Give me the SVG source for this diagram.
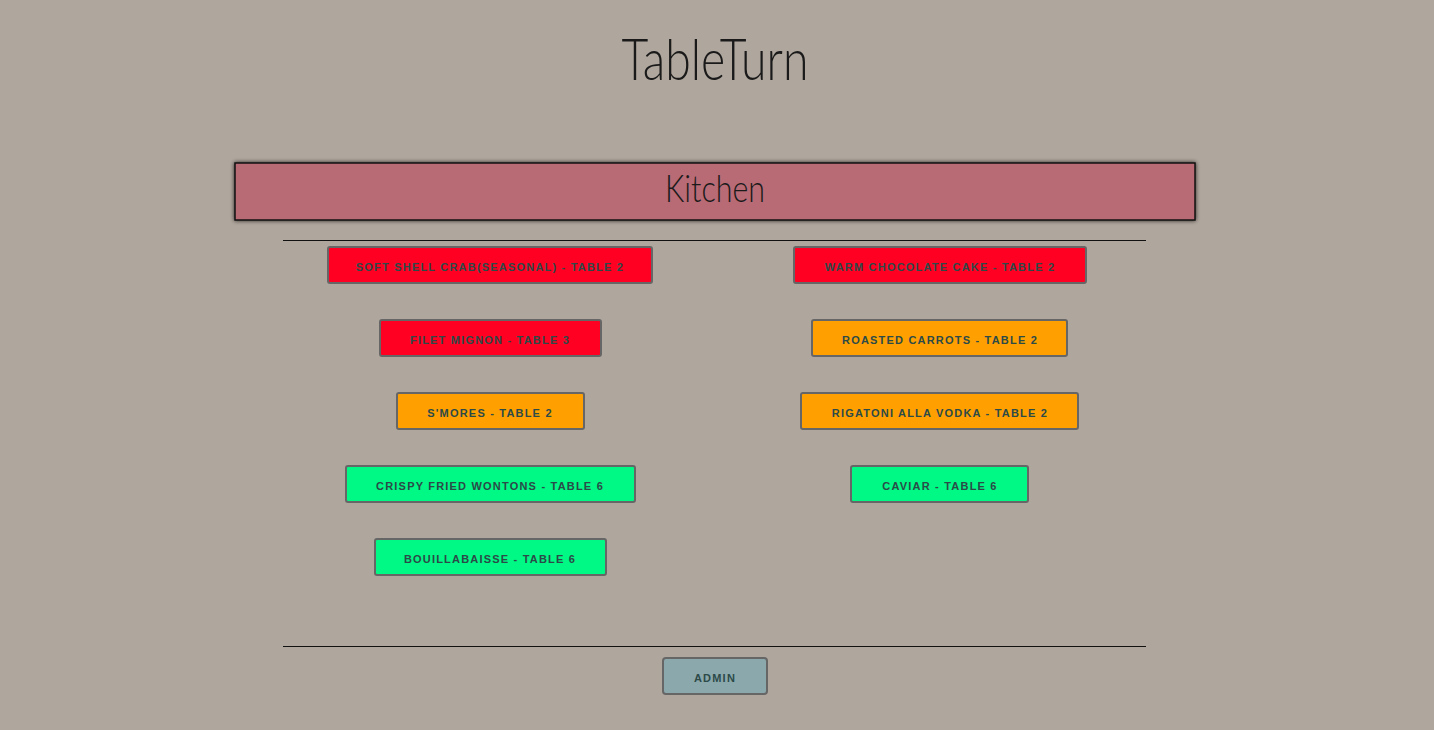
<svg xmlns="http://www.w3.org/2000/svg" width="1434" height="730" viewBox="0 0 1434 730">
<defs>
<filter id="sh" x="-5%" y="-30%" width="110%" height="160%"><feGaussianBlur in="SourceAlpha" stdDeviation="2"/><feOffset dx="0" dy="0"/><feComponentTransfer><feFuncA type="linear" slope="0.8"/></feComponentTransfer><feMerge><feMergeNode/><feMergeNode in="SourceGraphic"/></feMerge></filter>
</defs>
<style>
.btn{stroke:#666;stroke-width:2}
.red{fill:#ff0022}
.org{fill:#ffa000}
.grn{fill:#00f884}
.adm{fill:#8ba8ad}
.lbl{font-family:"Liberation Sans",Arial,sans-serif;font-weight:bold;font-size:11px;letter-spacing:1.2px;fill:#2b4a48;text-anchor:middle}
.thin{font-family:Lato,"Noto Sans",sans-serif;font-weight:300;fill:#1a1a1a;text-anchor:middle}
.rule{stroke:#111;stroke-width:1}
</style>
<rect x="0" y="0" width="1434" height="730" fill="#afa69d"/>
<text id="title" class="thin" x="0" y="0" font-size="58" transform="translate(715,80) scale(0.8,1)">TableTurn</text>
<g id="kitchen">
<rect x="235" y="163" width="960" height="57" fill="#b86b75" stroke="#111" stroke-width="1.5" filter="url(#sh)"/>
<text class="thin" x="0" y="0" font-size="38" transform="translate(715,202) scale(0.8,1)">Kitchen</text>
</g>
<g id="connectors">
<line class="rule" x1="283" y1="240.5" x2="1146" y2="240.5"/>
<line class="rule" x1="283" y1="646.5" x2="1146" y2="646.5"/>
</g>
<g id="n1"><rect class="btn red" x="328" y="247" width="324" height="36" rx="2"/><text class="lbl" x="490" y="271">SOFT SHELL CRAB(SEASONAL) - TABLE 2</text></g>
<g id="n2"><rect class="btn red" x="794" y="247" width="292" height="36" rx="2"/><text class="lbl" x="940" y="271">WARM CHOCOLATE CAKE - TABLE 2</text></g>
<g id="n3"><rect class="btn red" x="380" y="320" width="221" height="36" rx="2"/><text class="lbl" x="490" y="344">FILET MIGNON - TABLE 3</text></g>
<g id="n4"><rect class="btn org" x="812" y="320" width="255" height="36" rx="2"/><text class="lbl" x="940" y="344">ROASTED CARROTS - TABLE 2</text></g>
<g id="n5"><rect class="btn org" x="397" y="393" width="187" height="36" rx="2"/><text class="lbl" x="490" y="417">S'MORES - TABLE 2</text></g>
<g id="n6"><rect class="btn org" x="801" y="393" width="277" height="36" rx="2"/><text class="lbl" x="940" y="417">RIGATONI ALLA VODKA - TABLE 2</text></g>
<g id="n7"><rect class="btn grn" x="346" y="466" width="289" height="36" rx="2"/><text class="lbl" x="490" y="490">CRISPY FRIED WONTONS - TABLE 6</text></g>
<g id="n8"><rect class="btn grn" x="851" y="466" width="177" height="36" rx="2"/><text class="lbl" x="940" y="490">CAVIAR - TABLE 6</text></g>
<g id="n9"><rect class="btn grn" x="375" y="539" width="231" height="36" rx="2"/><text class="lbl" x="490" y="563">BOUILLABAISSE - TABLE 6</text></g>
<g id="admin"><rect class="btn adm" x="663" y="658" width="104" height="36" rx="3"/><text class="lbl" x="715" y="682">ADMIN</text></g>
</svg>
